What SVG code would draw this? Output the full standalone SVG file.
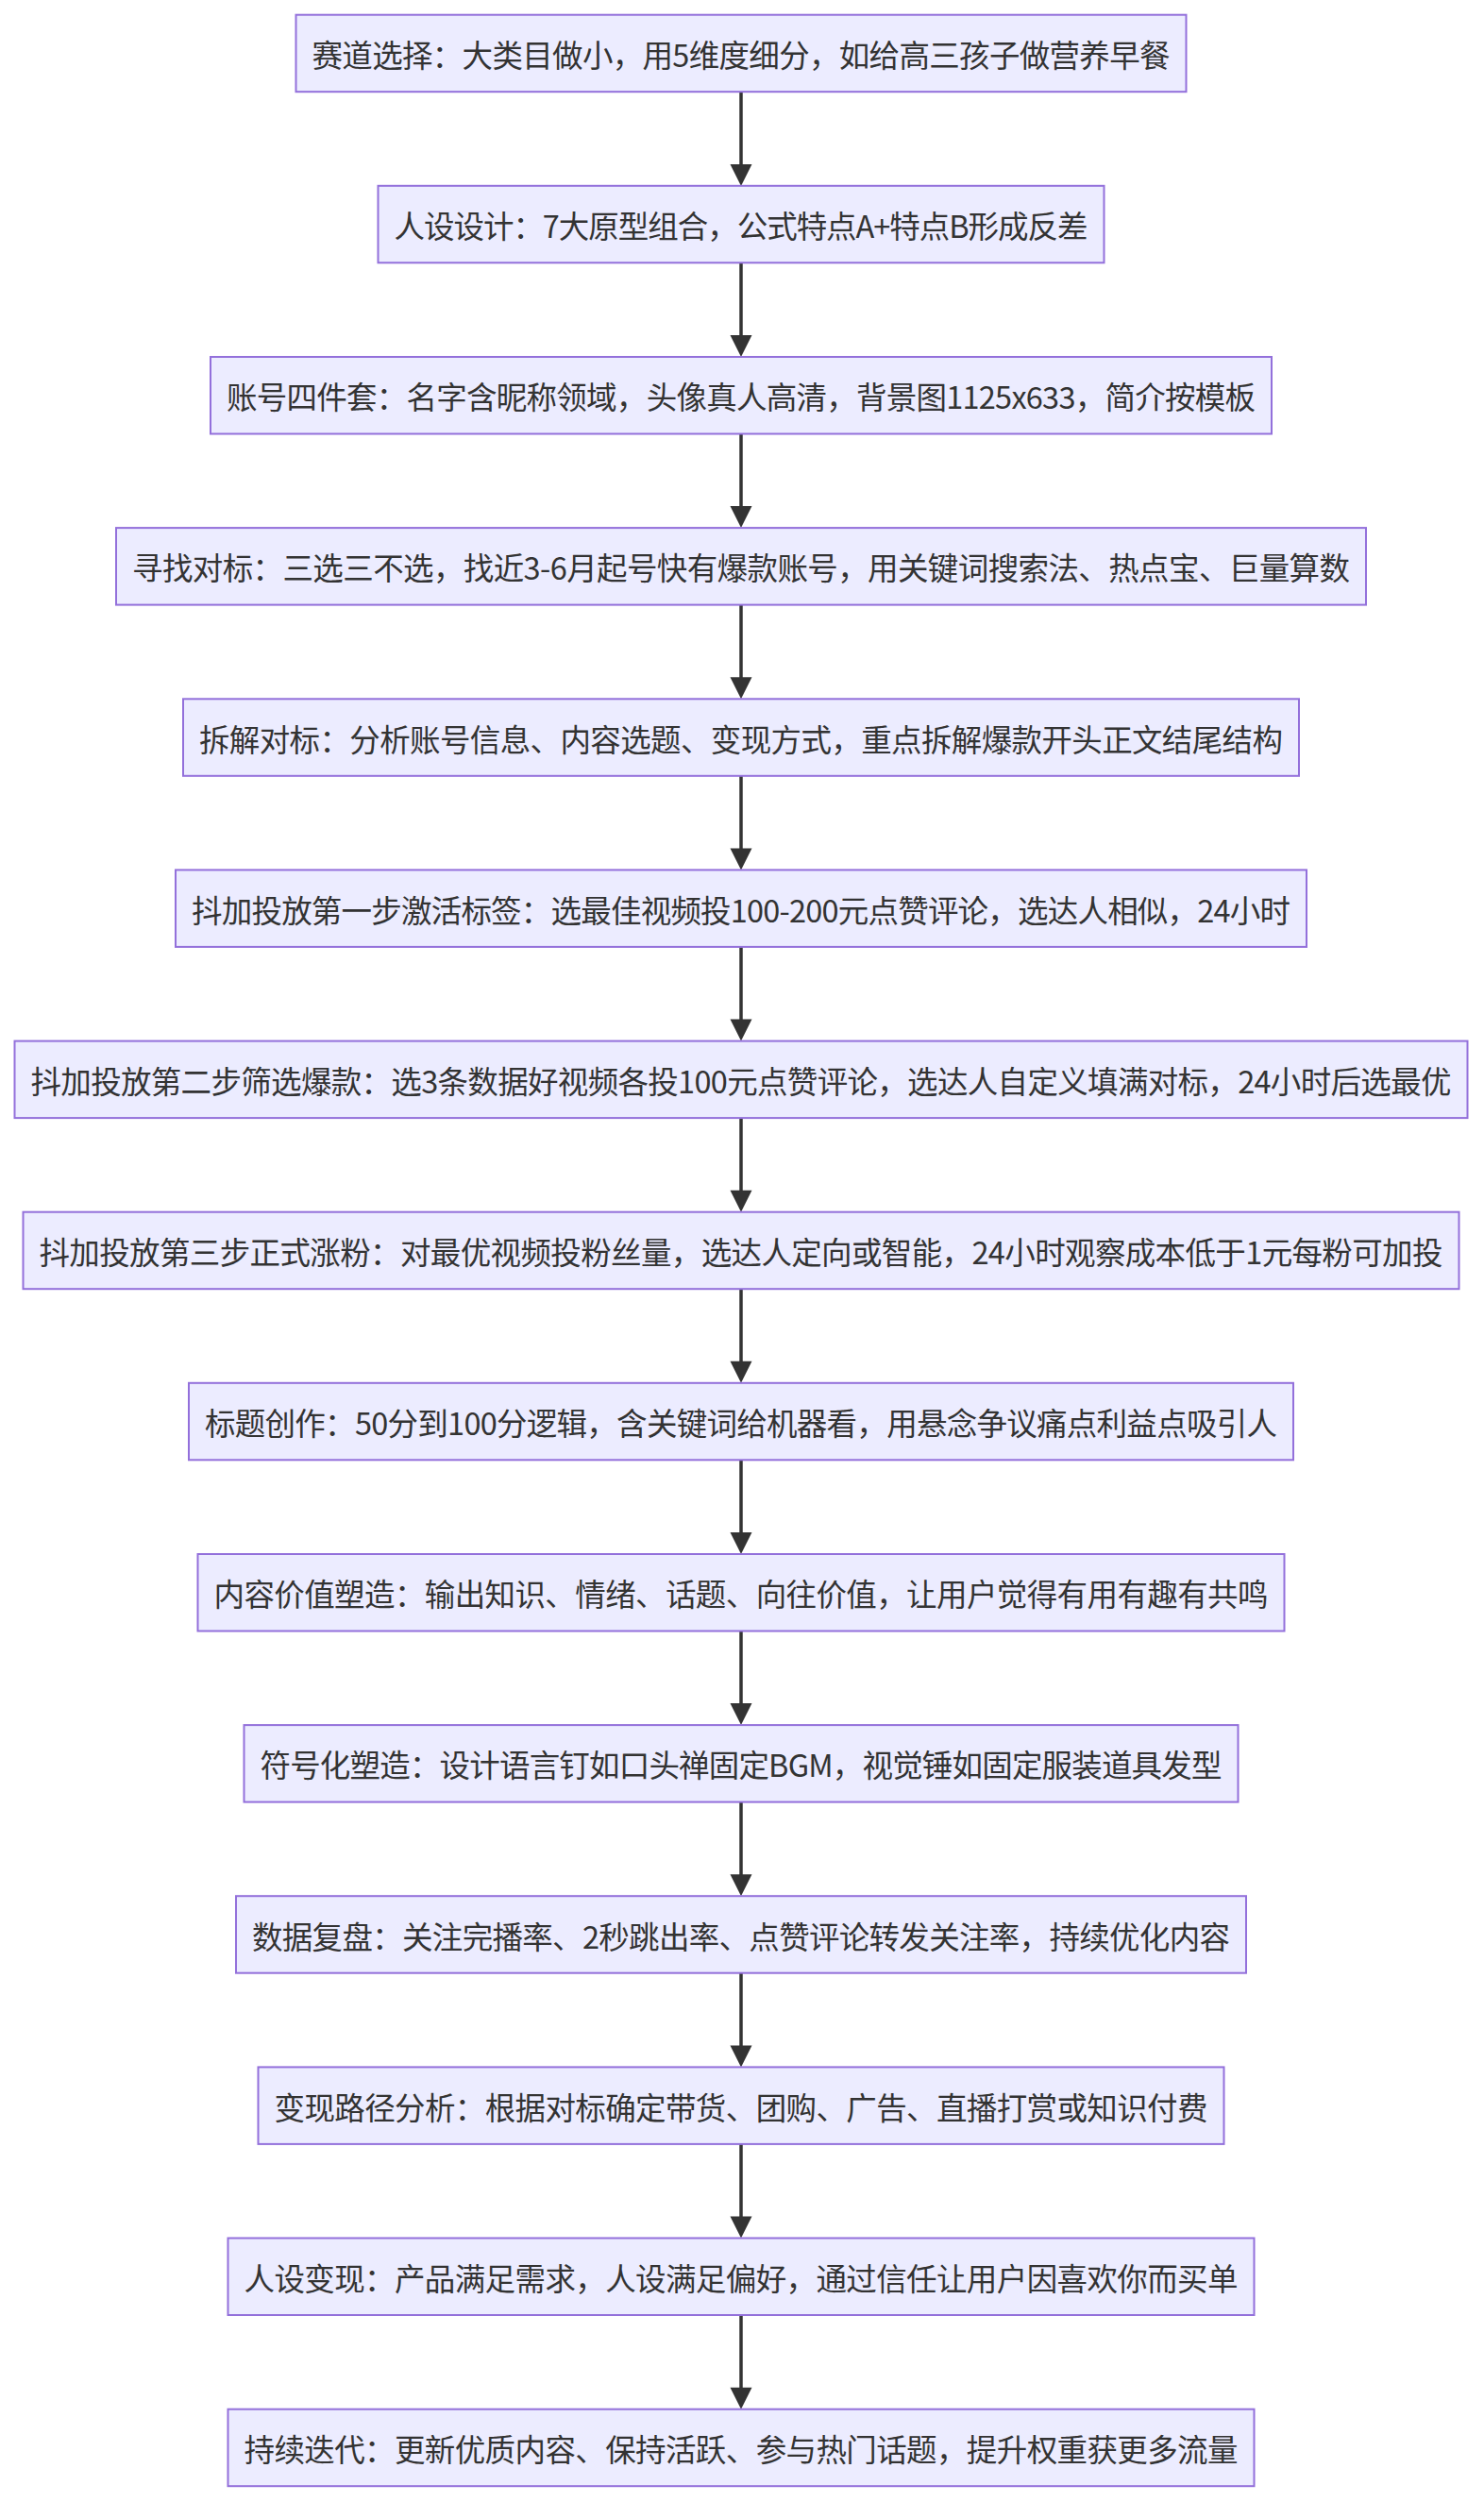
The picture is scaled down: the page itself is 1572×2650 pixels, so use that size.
<svg xmlns="http://www.w3.org/2000/svg" width="1572" height="2650" viewBox="0 0 1572 2650">
<defs>
<style>
.box{fill:#ECECFF;stroke:#9370DB;stroke-width:2}
.lbl{font-family:"Noto Sans CJK SC","Liberation Sans",sans-serif;font-size:32.5px;fill:#333333;text-anchor:middle;dominant-baseline:central}
.edge{stroke:#333333;stroke-width:3.5;fill:none}
.head{fill:#333333}
</style>
</defs>
<rect width="1572" height="2650" fill="#ffffff"/>
<g id="connectors">
<g id="a1"><line class="edge" x1="785" y1="97.2" x2="785" y2="175"/><path class="head" d="M773.5,174 L796.5,174 L785,197 z"/></g>
<g id="a2"><line class="edge" x1="785" y1="278.3" x2="785" y2="356"/><path class="head" d="M773.5,355 L796.5,355 L785,378 z"/></g>
<g id="a3"><line class="edge" x1="785" y1="459.4" x2="785" y2="537"/><path class="head" d="M773.5,536.1 L796.5,536.1 L785,559.1 z"/></g>
<g id="a4"><line class="edge" x1="785" y1="640.6" x2="785" y2="718"/><path class="head" d="M773.5,717.3 L796.5,717.3 L785,740.3 z"/></g>
<g id="a5"><line class="edge" x1="785" y1="821.7" x2="785" y2="899"/><path class="head" d="M773.5,898.4 L796.5,898.4 L785,921.4 z"/></g>
<g id="a6"><line class="edge" x1="785" y1="1002.8" x2="785" y2="1080"/><path class="head" d="M773.5,1079.6 L796.5,1079.6 L785,1102.6 z"/></g>
<g id="a7"><line class="edge" x1="785" y1="1184" x2="785" y2="1261"/><path class="head" d="M773.5,1260.7 L796.5,1260.7 L785,1283.7 z"/></g>
<g id="a8"><line class="edge" x1="785" y1="1365.1" x2="785" y2="1442"/><path class="head" d="M773.5,1441.8 L796.5,1441.8 L785,1464.8 z"/></g>
<g id="a9"><line class="edge" x1="785" y1="1546.3" x2="785" y2="1623"/><path class="head" d="M773.5,1623 L796.5,1623 L785,1646 z"/></g>
<g id="a10"><line class="edge" x1="785" y1="1727.4" x2="785" y2="1805"/><path class="head" d="M773.5,1804.1 L796.5,1804.1 L785,1827.1 z"/></g>
<g id="a11"><line class="edge" x1="785" y1="1908.5" x2="785" y2="1986"/><path class="head" d="M773.5,1985.2 L796.5,1985.2 L785,2008.2 z"/></g>
<g id="a12"><line class="edge" x1="785" y1="2089.7" x2="785" y2="2167"/><path class="head" d="M773.5,2166.4 L796.5,2166.4 L785,2189.4 z"/></g>
<g id="a13"><line class="edge" x1="785" y1="2270.8" x2="785" y2="2348"/><path class="head" d="M773.5,2347.5 L796.5,2347.5 L785,2370.5 z"/></g>
<g id="a14"><line class="edge" x1="785" y1="2452" x2="785" y2="2529"/><path class="head" d="M773.5,2528.7 L796.5,2528.7 L785,2551.7 z"/></g>
</g>
<g id="n1"><rect class="box" x="313.5" y="15.7" width="943" height="81.5"/><text class="lbl" x="785" y="56.5" textLength="909" lengthAdjust="spacing">赛道选择：大类目做小，用5维度细分，如给高三孩子做营养早餐</text></g>
<g id="n2"><rect class="box" x="400.5" y="196.8" width="769" height="81.5"/><text class="lbl" x="785" y="237.6" textLength="735" lengthAdjust="spacing">人设设计：7大原型组合，公式特点A+特点B形成反差</text></g>
<g id="n3"><rect class="box" x="223" y="378" width="1124" height="81.5"/><text class="lbl" x="785" y="418.7" textLength="1090" lengthAdjust="spacing">账号四件套：名字含昵称领域，头像真人高清，背景图1125x633，简介按模板</text></g>
<g id="n4"><rect class="box" x="123" y="559.1" width="1324" height="81.5"/><text class="lbl" x="785" y="599.9" textLength="1290" lengthAdjust="spacing">寻找对标：三选三不选，找近3-6月起号快有爆款账号，用关键词搜索法、热点宝、巨量算数</text></g>
<g id="n5"><rect class="box" x="194" y="740.3" width="1182" height="81.5"/><text class="lbl" x="785" y="781" textLength="1148" lengthAdjust="spacing">拆解对标：分析账号信息、内容选题、变现方式，重点拆解爆款开头正文结尾结构</text></g>
<g id="n6"><rect class="box" x="186" y="921.4" width="1198" height="81.5"/><text class="lbl" x="785" y="962.2" textLength="1164" lengthAdjust="spacing">抖加投放第一步激活标签：选最佳视频投100-200元点赞评论，选达人相似，24小时</text></g>
<g id="n7"><rect class="box" x="15.5" y="1102.6" width="1539" height="81.5"/><text class="lbl" x="785" y="1143.3" textLength="1505" lengthAdjust="spacing">抖加投放第二步筛选爆款：选3条数据好视频各投100元点赞评论，选达人自定义填满对标，24小时后选最优</text></g>
<g id="n8"><rect class="box" x="24.5" y="1283.7" width="1521" height="81.5"/><text class="lbl" x="785" y="1324.5" textLength="1487" lengthAdjust="spacing">抖加投放第三步正式涨粉：对最优视频投粉丝量，选达人定向或智能，24小时观察成本低于1元每粉可加投</text></g>
<g id="n9"><rect class="box" x="200" y="1464.8" width="1170" height="81.5"/><text class="lbl" x="785" y="1505.6" textLength="1136" lengthAdjust="spacing">标题创作：50分到100分逻辑，含关键词给机器看，用悬念争议痛点利益点吸引人</text></g>
<g id="n10"><rect class="box" x="209.5" y="1646" width="1151" height="81.5"/><text class="lbl" x="785" y="1686.7" textLength="1117" lengthAdjust="spacing">内容价值塑造：输出知识、情绪、话题、向往价值，让用户觉得有用有趣有共鸣</text></g>
<g id="n11"><rect class="box" x="258.5" y="1827.1" width="1053" height="81.5"/><text class="lbl" x="785" y="1867.9" textLength="1019" lengthAdjust="spacing">符号化塑造：设计语言钉如口头禅固定BGM，视觉锤如固定服装道具发型</text></g>
<g id="n12"><rect class="box" x="250" y="2008.2" width="1070" height="81.5"/><text class="lbl" x="785" y="2049" textLength="1036" lengthAdjust="spacing">数据复盘：关注完播率、2秒跳出率、点赞评论转发关注率，持续优化内容</text></g>
<g id="n13"><rect class="box" x="273.5" y="2189.4" width="1023" height="81.5"/><text class="lbl" x="785" y="2230.1" textLength="989" lengthAdjust="spacing">变现路径分析：根据对标确定带货、团购、广告、直播打赏或知识付费</text></g>
<g id="n14"><rect class="box" x="241.5" y="2370.5" width="1087" height="81.5"/><text class="lbl" x="785" y="2411.3" textLength="1053" lengthAdjust="spacing">人设变现：产品满足需求，人设满足偏好，通过信任让用户因喜欢你而买单</text></g>
<g id="n15"><rect class="box" x="241.5" y="2551.7" width="1087" height="81.5"/><text class="lbl" x="785" y="2592.4" textLength="1053" lengthAdjust="spacing">持续迭代：更新优质内容、保持活跃、参与热门话题，提升权重获更多流量</text></g>
</svg>
